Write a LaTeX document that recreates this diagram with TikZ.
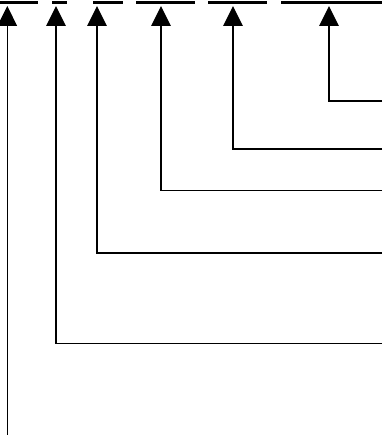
\documentclass[tikz,border=0pt]{standalone}
\usetikzlibrary{arrows.meta}
\begin{document}
\begin{tikzpicture}[x=1pt,y=-1pt,
  leader/.style={line width=1.3pt,-{Triangle[width=19.5pt,length=20pt]}},
  topbar/.style={line width=2.2pt}]
\useasboundingbox (0,0) rectangle (382,435);
% top bars
\foreach \a/\b [count=\i] in {0/38,52/67,93/123,136/195,208/267,281/382}{
  \coordinate (bl\i) at (\a,2.5);
  \coordinate (br\i) at (\b,2.5);
  \draw[topbar] (bl\i) -- (br\i);
}
% arrow tips
\foreach \x [count=\i] in {7.3,56,97,161,233,329}{
  \coordinate (t\i) at (\x,6);
}
% corners and right ends
\foreach \x/\y [count=\i from 2] in {56/343.7,97/253,161/190.7,233/149,329/101}{
  \coordinate (c\i) at (\x,\y);
  \coordinate (r\i) at (382,\y);
}
\coordinate (c1) at (7.3,435);
\draw[leader] (c1) -- (t1);
\foreach \i in {2,...,6}{
  \draw[leader] (r\i) -- (c\i) -- (t\i);
}
\end{tikzpicture}
\end{document}
